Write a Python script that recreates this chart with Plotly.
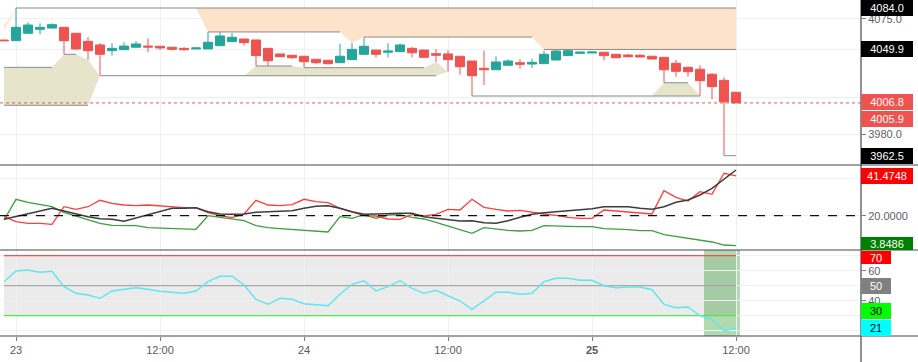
import plotly.graph_objects as go
from datetime import datetime, timedelta

# ---------------- data ----------------
base = datetime(2021, 2, 22, 23, 0)
n_bars = 62
times = [base + timedelta(hours=i) for i in range(n_bars)]

opens = [4057.6, 4057.1, 4063.2, 4066.5, 4067.5, 4068.1, 4063.2, 4056.6, 4053.6, 4048.9,
         4049.7, 4051.7, 4052.7, 4052.5, 4051.7, 4050.8, 4050.3, 4050.3, 4053.0, 4056.3,
         4058.5, 4057.7, 4050.8, 4046.2, 4045.1, 4044.3, 4041.8, 4041.0, 4039.0, 4041.5,
         4045.9, 4049.4, 4047.6, 4048.1, 4050.8, 4049.4, 4046.4, 4046.2, 4044.3, 4040.4,
         4034.4, 4033.2, 4036.9, 4039.0, 4037.9, 4038.2, 4041.2, 4044.8, 4046.7, 4047.0,
         4047.6, 4045.9, 4045.3, 4045.1, 4044.3, 4043.4, 4038.5, 4035.2, 4033.6, 4029.5,
         4024.5, 4014.7]
highs = [4058.0, 4084.0, 4072.2, 4071.4, 4071.4, 4068.1, 4063.2, 4060.1, 4055.2, 4055.0,
         4055.8, 4056.6, 4059.1, 4052.5, 4051.7, 4051.7, 4051.7, 4064.3, 4065.1, 4063.4,
         4058.5, 4057.7, 4050.8, 4046.2, 4045.1, 4044.3, 4041.8, 4041.0, 4054.6, 4055.5,
         4060.1, 4049.4, 4055.0, 4054.6, 4051.9, 4049.4, 4050.3, 4049.2, 4044.3, 4040.4,
         4048.9, 4044.3, 4041.8, 4041.8, 4042.3, 4048.9, 4050.3, 4050.5, 4047.8, 4047.8,
         4047.6, 4045.9, 4046.2, 4046.2, 4044.3, 4043.4, 4041.5, 4035.7, 4036.9, 4030.3,
         4027.0, 4014.7]
lows = [4056.8, 4057.1, 4063.2, 4062.4, 4067.5, 4045.9, 4049.4, 4041.2, 4028.3, 4044.8,
        4049.7, 4051.7, 4047.8, 4049.4, 4049.2, 4048.9, 4050.3, 4050.3, 4053.0, 4056.3,
        4053.0, 4036.3, 4036.3, 4043.9, 4042.3, 4034.9, 4037.7, 4037.4, 4039.0, 4041.5,
        4045.9, 4043.4, 4043.4, 4048.1, 4043.4, 4043.4, 4039.6, 4031.6, 4029.1, 4011.6,
        4020.7, 4033.2, 4036.9, 4034.1, 4034.6, 4038.2, 4041.2, 4044.8, 4046.7, 4047.0,
        4041.0, 4043.1, 4043.4, 4043.4, 4042.0, 4022.5, 4027.5, 4027.5, 4011.6, 4008.9,
        3962.5, 4005.9]
closes = [4057.1, 4068.1, 4070.0, 4068.1, 4070.3, 4057.1, 4050.3, 4048.9, 4045.9, 4050.8,
          4052.7, 4054.4, 4051.9, 4051.1, 4050.0, 4049.7, 4051.1, 4055.8, 4061.0, 4059.9,
          4055.5, 4044.8, 4040.6, 4043.9, 4043.1, 4039.8, 4039.0, 4038.2, 4044.3, 4050.0,
          4052.5, 4045.9, 4048.6, 4053.6, 4047.2, 4043.4, 4045.1, 4041.5, 4035.7, 4028.3,
          4033.2, 4039.6, 4040.4, 4037.7, 4039.3, 4045.9, 4048.6, 4048.9, 4047.8, 4047.8,
          4044.8, 4043.1, 4043.9, 4043.7, 4042.0, 4033.2, 4031.9, 4031.6, 4024.2, 4019.3,
          4006.8, 4005.9]

# supply / demand zones (per bar, None where no zone)
supply_upper = [4069.5, 4084.0] + [None] * 14 + [4084.0] * 46
supply_lower = ([4066.0, 4084.0] + [None] * 14 + [4084.0] + [4064.3] * 12 + [4055.5]
                + [4060.1] * 15 + [4049.9] * 17)
demand_upper = ([4035.2] * 5 + [4045.9] * 2 + [4041.2, 4028.3] + [None] * 11 + [4028.3]
                + [4036.3] * 4 + [4034.9] * 11 + [4039.6, 4031.6] + [None] * 16
                + [4011.6, 4022.5, 4022.5, 4022.5, 4011.6] + [None] * 3)
demand_lower = ([4004.0] * 8 + [4028.3] + [None] * 11 + [4028.3] * 17 + [4031.6]
                + [None] * 16 + [4011.6] * 5 + [None] * 3)

# zone boundary levels
level_prices = [4084.0, 4064.3, 4060.1, 4049.9, 4035.2, 4045.9, 4004.0, 4028.3, 4036.3, 4034.9, 4011.6, 4022.5, 3962.5]
level_start = [1, 17, 30, 45, 0, 5, 0, 8, 21, 25, 39, 55, 60]
level_end = [61, 28, 44, 61, 4, 6, 7, 36, 24, 35, 58, 57, 61]

last_price = 4005.9

# DMI / ADX
di_minus = [19.46, 16.76, 15.89, 15.89, 15.35, 24.87, 23.46, 24.87, 28.33, 26.71,
            25.79, 25.41, 25.79, 25.25, 24.87, 24.33, 24.33, 21.62, 20.0, 18.92,
            20.92, 28.33, 25.79, 25.41, 25.95, 28.87, 27.57, 27.03, 24.0, 22.16,
            20.0, 19.84, 18.22, 18.05, 20.76, 19.84, 20.76, 23.46, 23.08, 28.87,
            24.54, 23.46, 22.54, 22.92, 21.84, 20.92, 20.22, 19.13, 18.59, 18.59,
            23.08, 22.54, 22.0, 21.46, 20.92, 33.52, 29.95, 27.95, 32.98, 31.57,
            42.93, 41.4748]
di_plus = [17.67, 28.87, 27.25, 26.17, 24.87, 21.84, 19.84, 17.67, 15.89, 14.81,
           14.81, 14.59, 13.51, 13.35, 12.97, 12.81, 12.65, 20.0, 19.13, 18.22,
           17.3, 14.59, 13.51, 12.97, 12.43, 11.89, 11.56, 11.18, 19.46, 18.59,
           20.54, 18.59, 20.38, 20.54, 19.13, 18.22, 16.43, 14.43, 12.27, 10.48,
           13.51, 12.65, 12.1, 11.73, 12.1, 14.59, 14.59, 14.27, 14.05, 14.05,
           12.97, 12.81, 12.43, 11.89, 11.89, 9.72, 8.64, 7.94, 6.86, 5.78,
           4.15, 3.8486]
adx = [18.05, 19.46, 20.92, 22.54, 24.0, 22.54, 20.92, 19.46, 18.38, 18.05,
       16.97, 18.76, 20.76, 22.54, 24.0, 24.0, 24.33, 22.16, 20.92, 20.76,
       20.92, 21.84, 22.16, 22.38, 22.7, 24.0, 25.08, 25.41, 24.0, 22.16,
       20.76, 20.92, 21.3, 21.3, 21.3, 19.46, 18.59, 17.67, 17.13, 17.3,
       16.21, 15.89, 17.3, 19.13, 20.76, 21.62, 22.16, 22.7, 23.46, 23.79,
       24.87, 24.87, 24.87, 24.0, 23.46, 24.87, 27.25, 28.49, 31.19, 34.82,
       39.69, 44.71]
adx_threshold = 20

# RSI
rsi = [52.67, 59.8, 60.47, 58.93, 59.6, 49.33, 44.93, 43.8, 41.6, 46.47,
       47.6, 48.67, 47.6, 46.27, 45.6, 44.93, 46.47, 52.67, 56.27, 56.27,
       50.47, 40.93, 37.6, 41.6, 40.93, 38.0, 37.33, 36.67, 44.27, 50.93,
       53.33, 46.47, 49.33, 53.33, 48.27, 44.93, 46.93, 43.33, 39.8, 34.27,
       39.8, 45.6, 45.6, 44.27, 44.93, 52.67, 54.93, 54.93, 53.6, 53.6,
       50.0, 48.67, 49.13, 49.13, 47.33, 37.6, 35.33, 35.8, 30.0, 27.6,
       20.0, 21.6]
rsi_levels = [70, 50, 30]
rsi_level_colors = ["#FF4D4D", "#A8A8A8", "#4CEB4C"]
oversold_bars = [59, 60, 61]

x_tick_bars = [1, 13, 25, 37, 49, 61]
x_tick_text = ["23", "12:00", "24", "12:00", "<b>25</b>", "12:00"]

# ---------------- figure ----------------
FONT = "Liberation Sans, Arial, sans-serif"
W, H = 918, 362
ML, MR, MT, MB = 0, 57, 0, 26
PH = H - MT - MB
d1 = 1 - 165 / PH
d2 = 86 / PH
GRID = "#EDF1F4"
SEP = "#43464F"
Y3_RANGE = [16.47, 73.8]

fig = go.Figure()


def runs(upper):
    out, start = [], None
    for i, v in enumerate(upper + [None]):
        if v is not None and start is None:
            start = i
        elif v is None and start is not None:
            out.append((start, i - 1))
            start = None
    return out


for upper, lower, col in [(supply_upper, supply_lower, "#FDE3C9"),
                          (demand_upper, demand_lower, "#E6E5CB")]:
    for a, b in runs(upper):
        xs = times[a:b + 1] + times[a:b + 1][::-1]
        ys = upper[a:b + 1] + lower[a:b + 1][::-1]
        fig.add_trace(go.Scatter(x=xs, y=ys, fill="toself", fillcolor=col, mode="lines",
                                 line=dict(width=0), hoverinfo="skip", xaxis="x", yaxis="y"))

lx, ly = [], []
for p, s, e in zip(level_prices, level_start, level_end):
    lx += [times[s], times[e], None]
    ly += [p, p, None]
fig.add_trace(go.Scatter(x=lx, y=ly, mode="lines", line=dict(color="#8A8A8A", width=1),
                         hoverinfo="skip", xaxis="x", yaxis="y"))

fig.add_trace(go.Candlestick(
    x=times, open=opens, high=highs, low=lows, close=closes,
    increasing=dict(line=dict(color="#26A69A", width=1), fillcolor="#26A69A"),
    decreasing=dict(line=dict(color="#EF5350", width=1), fillcolor="#EF5350"),
    whiskerwidth=0, hoverinfo="skip", xaxis="x", yaxis="y"))

# DMI pane
fig.add_trace(go.Scatter(x=times, y=di_plus, mode="lines", line=dict(color="#3F9E3F", width=1.3),
                         hoverinfo="skip", xaxis="x", yaxis="y2"))
fig.add_trace(go.Scatter(x=times, y=di_minus, mode="lines", line=dict(color="#FF3D3D", width=1.3),
                         hoverinfo="skip", xaxis="x", yaxis="y2"))
fig.add_trace(go.Scatter(x=times, y=adx, mode="lines", line=dict(color="#3C3C3C", width=1.5),
                         hoverinfo="skip", xaxis="x", yaxis="y2"))

# RSI pane
for lvl, col in zip(rsi_levels, rsi_level_colors):
    fig.add_trace(go.Scatter(x=[times[0], times[-1]], y=[lvl, lvl], mode="lines",
                             line=dict(color=col, width=1.2), hoverinfo="skip", xaxis="x", yaxis="y3"))
fig.add_trace(go.Scatter(x=times, y=rsi, mode="lines", line=dict(color="#5EE6EE", width=1.4),
                         hoverinfo="skip", xaxis="x", yaxis="y3"))

shapes = [
    dict(type="rect", xref="x", yref="y3", x0=times[0], x1=times[-1], y0=rsi_levels[2], y1=rsi_levels[0],
         fillcolor="#EBEBEB", line=dict(width=0), layer="below"),
    dict(type="rect", xref="x", yref="y3",
         x0=times[oversold_bars[0]] - timedelta(minutes=40),
         x1=times[oversold_bars[-1]] + timedelta(minutes=20),
         y0=Y3_RANGE[0], y1=Y3_RANGE[1], fillcolor="rgba(0,128,0,0.30)", line=dict(width=0), layer="below"),
    dict(type="line", xref="paper", yref="y2", x0=0, x1=1, y0=adx_threshold, y1=adx_threshold,
         line=dict(color="#111111", width=1.3, dash="dash"), layer="above"),
    dict(type="line", xref="paper", yref="y", x0=0, x1=1, y0=last_price, y1=last_price,
         line=dict(color="#EF5350", width=1, dash="dot"), layer="above"),
    # pane separators and axis lines
    dict(type="line", xref="paper", yref="paper", x0=0, x1=W / (W - MR), y0=d1, y1=d1,
         line=dict(color=SEP, width=1.2), layer="above"),
    dict(type="line", xref="paper", yref="paper", x0=0, x1=W / (W - MR), y0=d2, y1=d2,
         line=dict(color=SEP, width=1.2), layer="above"),
    dict(type="line", xref="paper", yref="paper", x0=0, x1=W / (W - MR), y0=0, y1=0,
         line=dict(color=SEP, width=1.2), layer="above"),
    dict(type="line", xref="paper", yref="paper", x0=1, x1=1, y0=-MB / PH, y1=1,
         line=dict(color=SEP, width=1.2), layer="above"),
]

annotations = []


def box(val, text, bg, fg, yref, yshift=0, w=48, h=12):
    annotations.append(dict(
        xref="paper", x=1, xanchor="left", yref=yref, y=val, yanchor="middle", yshift=yshift,
        text=text, showarrow=False, bgcolor=bg, width=w, height=h, borderpad=2, borderwidth=0,
        align="center", valign="middle", font=dict(family=FONT, size=11, color=fg)))


box(4084.0, "4084.0", "#000000", "white", "y")
box(4049.9, "4049.9", "#000000", "white", "y")
box(4006.8, "4006.8", "#EF5350", "white", "y")
box(last_price, "4005.9", "#EF5350", "white", "y", yshift=-16)
box(3962.5, "3962.5", "#000000", "white", "y")
box(di_minus[-1], "41.4748", "#FF0000", "white", "y2")
box(di_plus[-1], "3.8486", "#008000", "white", "y2", yshift=2, h=9)
box(70, "70", "#FF0000", "white", "y3", yshift=-1.5, w=26, h=9)
box(50, "50", "#808080", "white", "y3", w=26)
box(30, "30", "#00FF00", "black", "y3", yshift=4.5, w=26)
box(rsi[-1], "21", "#00FFFF", "black", "y3", w=26)

tick_font = dict(family=FONT, size=11, color="#5D606B")
yax_common = dict(side="right", showgrid=True, gridcolor=GRID, gridwidth=1, zeroline=False,
                  ticks="outside", ticklen=4, tickcolor="#7A7D86", tickfont=tick_font,
                  showline=False, automargin=False, fixedrange=True)

fig.update_layout(
    template="none",
    width=W, height=H,
    margin=dict(l=ML, r=MR, t=MT, b=MB, pad=0),
    paper_bgcolor="white", plot_bgcolor="white",
    showlegend=False,
    hovermode=False,
    boxgap=0.15, boxgroupgap=0.12,
    xaxis=dict(domain=[0, 1], anchor="y3", type="date",
               range=[base - timedelta(minutes=20), base + timedelta(hours=71, minutes=25)],
               tickmode="array", tickvals=[times[i] for i in x_tick_bars], ticktext=x_tick_text,
               showgrid=True, gridcolor=GRID, gridwidth=1, zeroline=False, showline=False,
               ticks="outside", ticklen=4, tickcolor="#7A7D86",
               tickfont=dict(family=FONT, size=11, color="#555861"),
               rangeslider=dict(visible=False), automargin=False, fixedrange=True),
    yaxis=dict(domain=[d1, 1], anchor="x", range=[3954.84, 4090.58],
               tickmode="array", tickvals=[3980, 4010, 4050, 4075],
               ticktext=["3980.0", "", "", "4075.0"], **yax_common),
    yaxis2=dict(domain=[d2, d1], anchor="x", range=[1.45, 47.42],
                tickmode="array", tickvals=[20, 40], ticktext=["20.0000", ""], **yax_common),
    yaxis3=dict(domain=[0, d2], anchor="x", range=Y3_RANGE,
                tickmode="array", tickvals=[20, 30, 40, 50, 60, 70],
                ticktext=["", "", "40", "", "60", ""], **yax_common),
    shapes=shapes,
    annotations=annotations,
)

fig.write_html("out.html", config={"displayModeBar": False},
               post_script="document.body.style.margin='0';")
